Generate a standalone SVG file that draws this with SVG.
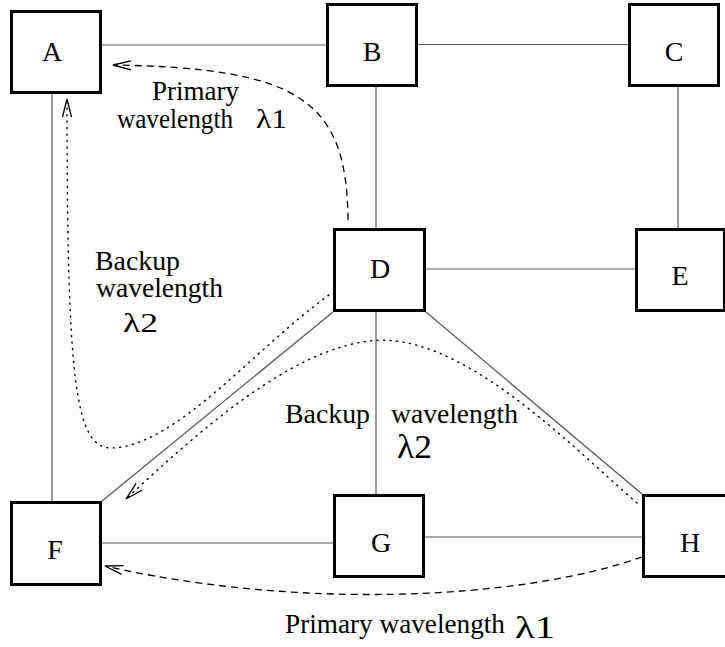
<svg xmlns="http://www.w3.org/2000/svg" width="725" height="647" viewBox="0 0 725 647">
<style>
.node rect{fill:#fff;stroke:#000;stroke-width:3}
.node text{font-size:28px;text-anchor:middle;fill:#000}
.edge{stroke:#555;stroke-width:1.2;fill:none}
.primary{stroke:#000;stroke-width:1.3;fill:none;stroke-dasharray:7 5;marker-end:url(#chev)}
.backup{stroke:#000;stroke-width:1.4;fill:none;stroke-dasharray:1.2 5.3;stroke-linecap:round;marker-end:url(#chev)}
.lbl{font-size:27px;fill:#000}
</style>
<defs>
<marker id="chev" markerUnits="userSpaceOnUse" markerWidth="24" markerHeight="14" refX="20" refY="7" orient="auto">
<path d="M2,2.5 L20,7 L2,11.5" fill="none" stroke="#000" stroke-width="1.3"/>
</marker>
</defs>
<rect width="725" height="647" fill="#fff"/>
<g id="connectors">
<line class="edge" x1="102" y1="45" x2="326" y2="45"/>
<line class="edge" x1="418" y1="44.5" x2="628" y2="44.5"/>
<line class="edge" x1="376" y1="87" x2="376" y2="228"/>
<line class="edge" x1="678" y1="87" x2="678" y2="228"/>
<line class="edge" x1="52" y1="94" x2="52" y2="501"/>
<line class="edge" x1="426" y1="269" x2="635" y2="269"/>
<line class="edge" x1="333" y1="312" x2="102" y2="501"/>
<line class="edge" x1="426" y1="312" x2="642" y2="494"/>
<line class="edge" x1="376" y1="312" x2="376" y2="494"/>
<line class="edge" x1="102" y1="543" x2="333" y2="543"/>
<line class="edge" x1="425" y1="537" x2="642" y2="537"/>
<path class="primary" d="M348,220 C347,100 300,68 113,65"/>
<path class="backup" d="M329,295 C255,348 175,448 110,448 C75,446 67,380 67,99"/>
<path class="backup" d="M637,503 C570,445 460,330 370,341 C290,350 200,430 126,499"/>
<path class="primary" d="M642,557 C520,600 300,610 105,566"/>
</g>
<g id="labels" font-family="Liberation Serif, Times New Roman, DejaVu Serif, serif">
<text class="lbl" x="152" y="100" textLength="87" lengthAdjust="spacingAndGlyphs">Primary</text>
<text class="lbl" x="117" y="128" textLength="116" lengthAdjust="spacingAndGlyphs">wavelength</text>
<text class="lbl" x="256" y="128" font-size="28" textLength="31" lengthAdjust="spacingAndGlyphs">λ1</text>
<text class="lbl" x="95" y="270" textLength="85" lengthAdjust="spacingAndGlyphs">Backup</text>
<text class="lbl" x="96" y="297" textLength="127" lengthAdjust="spacingAndGlyphs">wavelength</text>
<text class="lbl" x="123" y="332" font-size="27" textLength="35" lengthAdjust="spacingAndGlyphs">λ2</text>
<text class="lbl" x="285" y="423" textLength="85" lengthAdjust="spacingAndGlyphs">Backup</text>
<text class="lbl" x="391" y="423" textLength="127" lengthAdjust="spacingAndGlyphs">wavelength</text>
<text class="lbl" x="397" y="458" style="font-size:33px" textLength="35" lengthAdjust="spacingAndGlyphs">λ2</text>
<text class="lbl" x="285" y="633" textLength="220" lengthAdjust="spacingAndGlyphs">Primary wavelength</text>
<text class="lbl" x="515" y="638" style="font-size:32px" textLength="40" lengthAdjust="spacingAndGlyphs">λ1</text>
</g>
<g font-family="Liberation Serif, Times New Roman, DejaVu Serif, serif">
<g id="A" class="node"><rect x="11.5" y="11.5" width="89" height="81"/><text x="52" y="61">A</text></g>
<g id="B" class="node"><rect x="327.5" y="4.5" width="89" height="81"/><text x="372" y="61">B</text></g>
<g id="C" class="node"><rect x="629.5" y="4.5" width="89" height="81"/><text x="674" y="61">C</text></g>
<g id="D" class="node"><rect x="334.5" y="229.5" width="90" height="81"/><text x="380" y="278">D</text></g>
<g id="E" class="node"><rect x="636.5" y="229.5" width="88" height="81"/><text x="680" y="285">E</text></g>
<g id="F" class="node"><rect x="11.5" y="502.5" width="89" height="82"/><text x="55" y="559">F</text></g>
<g id="G" class="node"><rect x="334.5" y="495.5" width="89" height="81"/><text x="381" y="552">G</text></g>
<g id="H" class="node"><rect x="643.5" y="495.5" width="85" height="81"/><text x="690" y="552">H</text></g>
</g>
</svg>
